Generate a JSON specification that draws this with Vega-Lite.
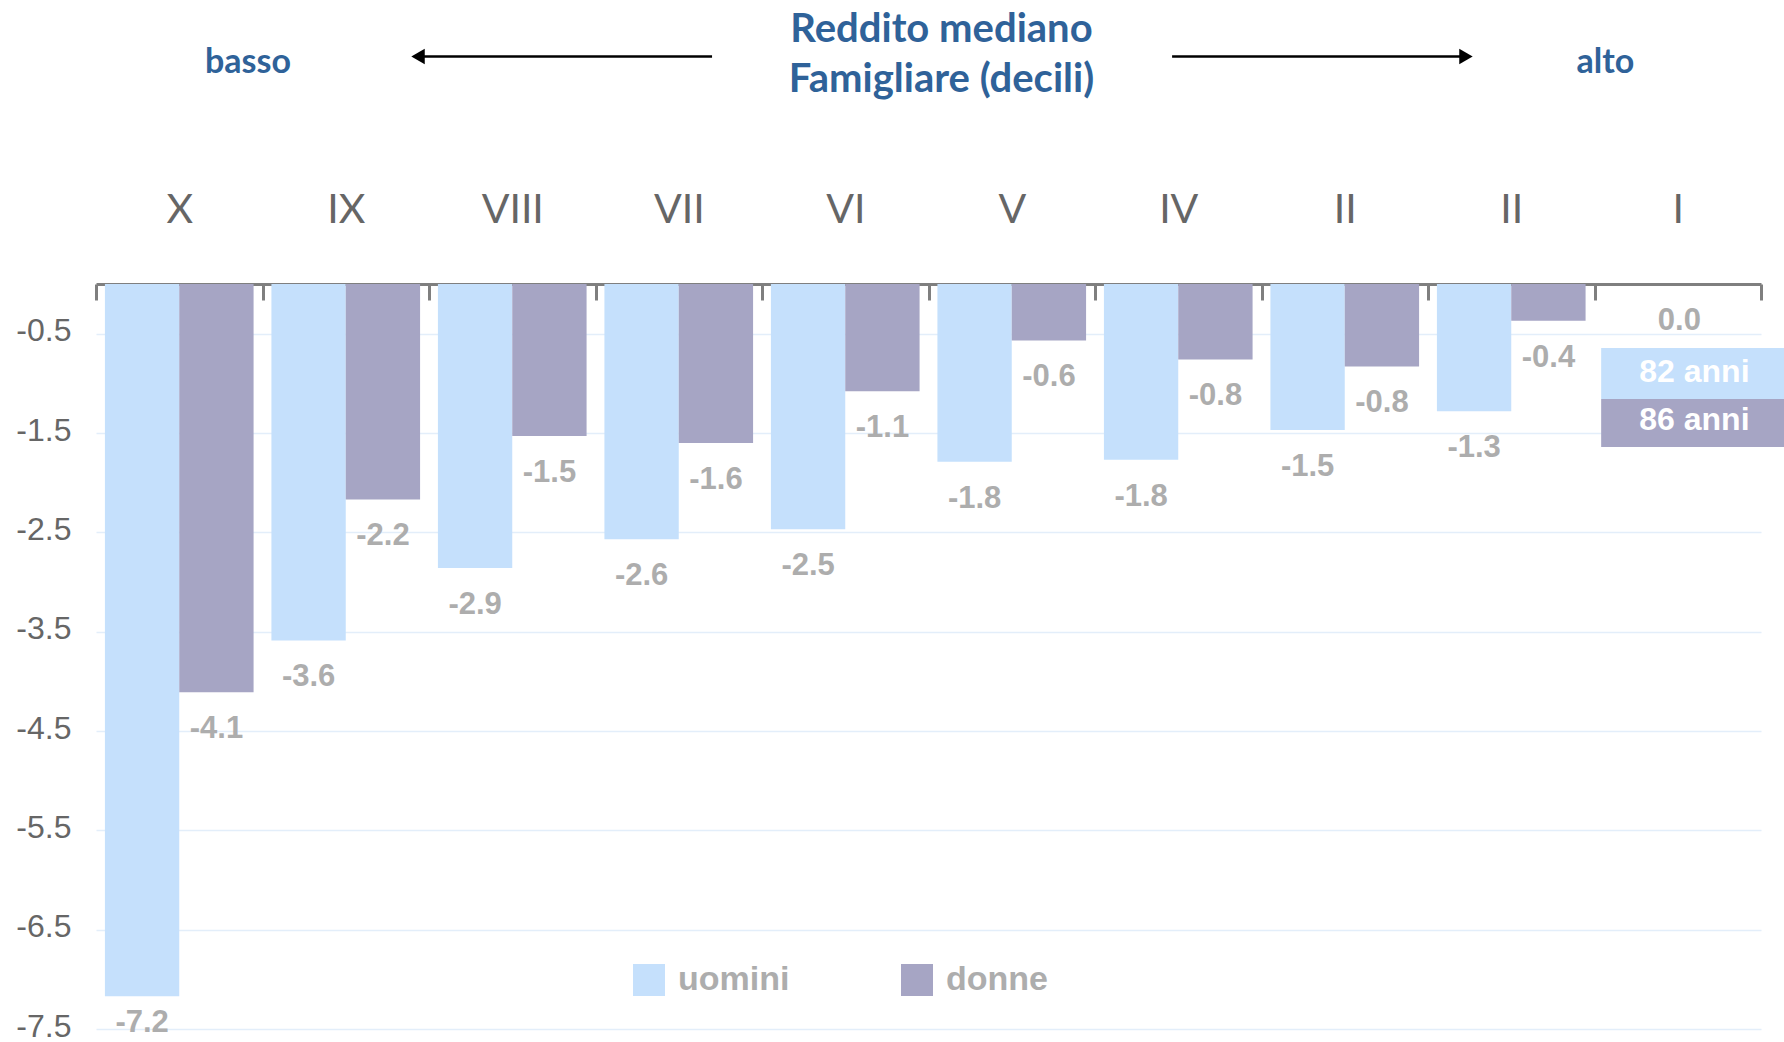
{
  "$schema": "https://vega.github.io/schema/vega-lite/v6.json",
  "width": 1665,
  "height": 745,
  "autosize": {"type": "none"},
  "padding": {"left": 96, "top": 284, "right": 23, "bottom": 13},
  "background": "white",
  "config": {"view": {"stroke": null}},
  "datasets": {
    "valori": [
      {"decile": "X", "sesso": "uomini", "v": -7.17},
      {"decile": "X", "sesso": "donne", "v": -4.11},
      {"decile": "IX", "sesso": "uomini", "v": -3.59},
      {"decile": "IX", "sesso": "donne", "v": -2.17},
      {"decile": "VIII", "sesso": "uomini", "v": -2.86},
      {"decile": "VIII", "sesso": "donne", "v": -1.53},
      {"decile": "VII", "sesso": "uomini", "v": -2.57},
      {"decile": "VII", "sesso": "donne", "v": -1.6},
      {"decile": "VI", "sesso": "uomini", "v": -2.47},
      {"decile": "VI", "sesso": "donne", "v": -1.08},
      {"decile": "V", "sesso": "uomini", "v": -1.79},
      {"decile": "V", "sesso": "donne", "v": -0.57},
      {"decile": "IV", "sesso": "uomini", "v": -1.77},
      {"decile": "IV", "sesso": "donne", "v": -0.76},
      {"decile": "II ", "sesso": "uomini", "v": -1.47},
      {"decile": "II ", "sesso": "donne", "v": -0.83},
      {"decile": "II", "sesso": "uomini", "v": -1.28},
      {"decile": "II", "sesso": "donne", "v": -0.37},
      {"decile": "I", "sesso": "uomini", "v": 0},
      {"decile": "I", "sesso": "donne", "v": 0}
    ],
    "note": [
      {"kind": "titolo", "t": "Reddito mediano", "px": 5.078, "py": 2.437},
      {"kind": "titolo", "t": "Famigliare (decili)", "px": 5.078, "py": 1.933},
      {"kind": "lato", "t": "basso", "px": 0.913, "py": 2.125},
      {"kind": "lato", "t": "alto", "px": 9.066, "py": 2.125},
      {"kind": "freccia", "dir": "sx", "px": 3.7, "px2": 1.946, "ph": 1.934, "py": 2.29},
      {"kind": "freccia", "dir": "dx", "px": 6.463, "px2": 8.228, "ph": 8.228, "py": 2.29},
      {"kind": "box", "sesso": "uomini", "t": "82 anni", "px": 9.04, "px2": 10.14, "pt": 9.6, "py": -0.645, "py2": -1.158, "pc": -0.89},
      {"kind": "box", "sesso": "donne", "t": "86 anni", "px": 9.04, "px2": 10.14, "pt": 9.6, "py": -1.158, "py2": -1.64, "pc": -1.37},
      {"kind": "zero", "t": "0.0", "px": 9.51, "py": -0.22}
    ]
  },
  "resolve": {"scale": {"x": "independent"}, "axis": {"x": "independent", "y": "shared"}},
  "layer": [
    {
      "data": {"name": "valori"},
      "mark": {"type": "bar"},
      "encoding": {
        "x": {
          "field": "decile", "type": "nominal",
          "scale": {"type": "band", "paddingInner": 0, "paddingOuter": 0,
            "domain": ["X", "IX", "VIII", "VII", "VI", "V", "IV", "II ", "II", "I"]},
          "axis": {
            "orient": "top", "title": null, "labelAngle": 0,
            "domain": true, "domainColor": "#7F7F7F", "domainWidth": 3,
            "ticks": true, "tickBand": "extent", "tickColor": "#7F7F7F", "tickWidth": 3, "tickSize": -16,
            "labelFont": "Lato", "labelFontWeight": 400, "labelFontSize": 41, "labelColor": "#666666",
            "labelPadding": 69, "grid": false
          }
        },
        "xOffset": {
          "field": "sesso", "type": "nominal",
          "scale": {"domain": ["uomini", "donne"], "paddingOuter": 0.12, "paddingInner": 0}
        },
        "y": {
          "field": "v", "type": "quantitative",
          "scale": {"domain": [-7.5, 0], "nice": false, "zero": false},
          "axis": {
            "orient": "left", "title": null, "values": [-0.5, -1.5, -2.5, -3.5, -4.5, -5.5, -6.5, -7.5],
            "labelExpr": "replace(format(datum.value, '.1f'), '\u2212', '-')",
            "domain": false, "ticks": false, "labelOffset": -3,
            "labelFont": "Liberation Sans", "labelFontSize": 32, "labelColor": "#666666", "labelPadding": 25,
            "grid": true, "gridColor": "#E3EEFA", "gridWidth": 1.5
          }
        },
        "color": {
          "field": "sesso", "type": "nominal",
          "scale": {"domain": ["uomini", "donne"], "range": ["#C5E0FC", "#A6A5C4"]},
          "legend": {
            "orient": "none", "legendX": 536, "legendY": 679, "direction": "horizontal",
            "title": null, "symbolType": "square", "symbolSize": 1024, "symbolStrokeWidth": 0,
            "symbolOpacity": 1, "labelFont": "Liberation Sans", "labelFontSize": 34,
            "labelFontWeight": "bold", "labelColor": "#ADADAD", "labelOffset": 12,
            "columnPadding": 110, "padding": 0
          }
        }
      }
    },
    {
      "data": {"name": "valori"},
      "transform": [
        {"filter": "datum.decile != 'I'"},
        {"calculate": "max(datum.v - 0.22, -7.29)", "as": "ly"},
        {"calculate": "replace(format(datum.v, '.1f'), '\u2212', '-')", "as": "lt"}
      ],
      "mark": {"type": "text", "baseline": "top", "align": "center", "font": "Liberation Sans",
        "fontSize": 31, "fontWeight": "bold", "color": "#ADADAD"},
      "encoding": {
        "x": {"field": "decile", "type": "nominal", "axis": null,
          "scale": {"type": "band", "paddingInner": 0, "paddingOuter": 0,
            "domain": ["X", "IX", "VIII", "VII", "VI", "V", "IV", "II ", "II", "I"]}},
        "xOffset": {"field": "sesso", "type": "nominal",
          "scale": {"domain": ["uomini", "donne"], "paddingOuter": 0.12, "paddingInner": 0}},
        "y": {"field": "ly", "type": "quantitative"},
        "text": {"field": "lt"}
      }
    },
    {
      "data": {"name": "note"},
      "transform": [{"filter": "datum.kind == 'titolo'"}],
      "mark": {"type": "text", "align": "center", "baseline": "alphabetic", "font": "Lato",
        "fontSize": 40, "fontWeight": "bold", "color": "#2F6299"},
      "encoding": {
        "x": {"field": "px", "type": "quantitative", "scale": {"domain": [0, 10], "nice": false, "zero": false}, "axis": null},
        "y": {"field": "py", "type": "quantitative"},
        "text": {"field": "t"}
      }
    },
    {
      "data": {"name": "note"},
      "transform": [{"filter": "datum.kind == 'lato'"}],
      "mark": {"type": "text", "align": "center", "baseline": "alphabetic", "font": "Lato",
        "fontSize": 34, "fontWeight": "bold", "color": "#2F6299"},
      "encoding": {
        "x": {"field": "px", "type": "quantitative", "scale": {"domain": [0, 10], "nice": false, "zero": false}, "axis": null},
        "y": {"field": "py", "type": "quantitative"},
        "text": {"field": "t"}
      }
    },
    {
      "data": {"name": "note"},
      "transform": [{"filter": "datum.kind == 'freccia'"}],
      "mark": {"type": "rule", "color": "#000000", "strokeWidth": 2.5},
      "encoding": {
        "x": {"field": "px", "type": "quantitative", "scale": {"domain": [0, 10], "nice": false, "zero": false}, "axis": null},
        "x2": {"field": "px2"},
        "y": {"field": "py", "type": "quantitative"}
      }
    },
    {
      "data": {"name": "note"},
      "transform": [{"filter": "datum.kind == 'freccia'"}],
      "mark": {"type": "point", "filled": true, "color": "#000000", "opacity": 1, "size": 240, "strokeWidth": 0},
      "encoding": {
        "x": {"field": "ph", "type": "quantitative", "scale": {"domain": [0, 10], "nice": false, "zero": false}, "axis": null},
        "y": {"field": "py", "type": "quantitative"},
        "shape": {"field": "dir", "type": "nominal",
          "scale": {"domain": ["sx", "dx"], "range": ["triangle-left", "triangle-right"]}, "legend": null}
      }
    },
    {
      "data": {"name": "note"},
      "transform": [{"filter": "datum.kind == 'box'"}],
      "mark": {"type": "rect"},
      "encoding": {
        "x": {"field": "px", "type": "quantitative", "scale": {"domain": [0, 10], "nice": false, "zero": false}, "axis": null},
        "x2": {"field": "px2"},
        "y": {"field": "py", "type": "quantitative"},
        "y2": {"field": "py2"},
        "color": {"field": "sesso", "type": "nominal"}
      }
    },
    {
      "data": {"name": "note"},
      "transform": [{"filter": "datum.kind == 'box'"}],
      "mark": {"type": "text", "align": "center", "baseline": "middle", "font": "Liberation Sans",
        "fontSize": 32, "fontWeight": "bold", "color": "#FFFFFF"},
      "encoding": {
        "x": {"field": "pt", "type": "quantitative", "scale": {"domain": [0, 10], "nice": false, "zero": false}, "axis": null},
        "y": {"field": "pc", "type": "quantitative"},
        "text": {"field": "t"}
      }
    },
    {
      "data": {"name": "note"},
      "transform": [{"filter": "datum.kind == 'zero'"}],
      "mark": {"type": "text", "align": "center", "baseline": "top", "font": "Liberation Sans",
        "fontSize": 31, "fontWeight": "bold", "color": "#ADADAD"},
      "encoding": {
        "x": {"field": "px", "type": "quantitative", "scale": {"domain": [0, 10], "nice": false, "zero": false}, "axis": null},
        "y": {"field": "py", "type": "quantitative"},
        "text": {"field": "t"}
      }
    }
  ]
}
